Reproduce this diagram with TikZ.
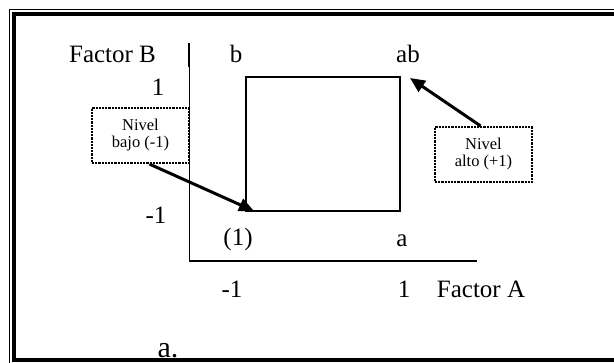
\documentclass[tikz,border=0pt]{standalone}
\usepackage{fontspec}
\setmainfont{Liberation Serif}
\usetikzlibrary{arrows.meta}

\begin{document}
\begin{tikzpicture}[x=1pt, y=-1pt,
    etiqueta/.style={anchor=base, font=\fontsize{25}{29}\selectfont},
    nivel/.style={draw, densely dotted, line width=2.2pt, minimum width=97pt,
        minimum height=55pt, align=center, inner sep=2pt,
        font=\fontsize{16.5}{17}\selectfont},
    flecha/.style={line width=3pt, -{Triangle[length=15pt,width=13pt]}}]
    \useasboundingbox (0,0) rectangle (614,362);
    \clip (0,0) rectangle (614,362);

    % Coordenadas
    \coordinate (O) at (189,261);
    \coordinate (Ytop) at (189,43);
    \coordinate (Ytick) at (189,67);
    \coordinate (Xend) at (477,261);
    \coordinate (P1) at (246,211);   % (1)
    \coordinate (P2) at (400,77);    % ab

    % Texto inferior (queda bajo el marco)
    \node[anchor=base, font=\fontsize{30}{34}\selectfont] (lit) at (168,357) {a.};

    % Marco doble
    \draw[line width=1pt] (9.5,9.5) rectangle (630,380);
    \draw[line width=4pt] (14,14) rectangle (625,360);

    % Ejes
    \draw[line width=1pt] (O) -- (Ytop);
    \draw[line width=2pt] (Ytick) -- (Ytop);
    \draw[line width=2pt] (O) -- (Xend);

    % Cuadrado del diseño
    \draw[line width=1.5pt] (P1) rectangle (P2);

    % Etiquetas de los ejes
    \node[etiqueta] (fb) at (112.5,62) {Factor B};
    \node[etiqueta] (fa) at (481,297) {Factor A};
    \node[etiqueta] (yb) at (158,95) {1};
    \node[etiqueta] (ya) at (156,223) {-1};
    \node[etiqueta] (xa) at (232,297) {-1};
    \node[etiqueta] (xb) at (404,297) {1};

    % Tratamientos
    \node[etiqueta] (tb) at (236,62) {b};
    \node[etiqueta] (tab) at (408,62) {ab};
    \node[etiqueta] (t1) at (238,245) {(1)};
    \node[etiqueta] (ta) at (402,246) {a};

    % Niveles
    \node[nivel] (bajo) at (140.5,135.5) {Nivel\\bajo (-1)};
    \node[nivel] (alto) at (483.5,154.5) {Nivel\\alto (+1)};

    % Flechas
    \coordinate (Fbajo) at (254,211);
    \coordinate (Falto) at (410,78);
    \draw[flecha] ([xshift=9pt]bajo.south) -- (Fbajo);
    \draw[flecha] ([xshift=-3pt]alto.north) -- (Falto);

\end{tikzpicture}
\end{document}
